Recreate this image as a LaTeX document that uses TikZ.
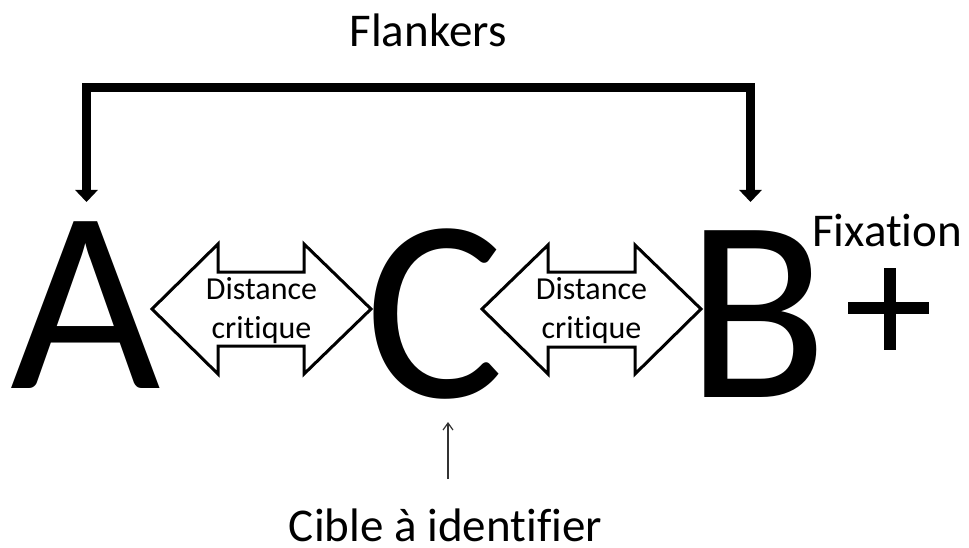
\documentclass[tikz,border=0pt]{standalone}
\usepackage{fontspec}
\setmainfont{Carlito}[Ligatures=NoCommon]
\usetikzlibrary{arrows.meta}
\tikzset{
  bigletter/.style={anchor=base,inner sep=0pt,font=\fontsize{260}{260}\selectfont},
  label/.style={anchor=base,inner sep=0pt,font=\fontsize{47}{52}\selectfont},
  dtext/.style={anchor=base,inner sep=0pt,font=\fontsize{32}{39}\selectfont},
  dblarrow/.style={draw=black,line width=3pt,fill=white,line join=miter},
  bracket/.style={line width=9pt,line join=miter,
    {Triangle[width=22pt,length=12pt]}-{Triangle[width=22pt,length=12pt]}},
  thinarrow/.style={line width=1.2pt,draw=black!80,-{Straight Barb[length=7pt,width=10pt]}},
  plusbar/.style={line width=12pt}
}
\begin{document}
\begin{tikzpicture}[x=1pt,y=-1pt]
\useasboundingbox (0,0) rectangle (969,548);
% big letters
\node[bigletter] (A) at (86,388) {A};
\node[bigletter] (C) at (435,397) {C};
\node[bigletter] (B) at (757,397) {B};
% labels
\node[label] (flankers) at (428,47) {Flankers};
\node[label] (cible) at (445.5,541) {Cible à identifier};
\node[label,anchor=base west] (fix) at (812,247) {Fixation};
% bracket
\coordinate (ta) at (86.5,202);
\coordinate (tb) at (750.5,202);
\draw[bracket] (ta) -- (ta |- 0,88) -- (tb |- 0,88) -- (tb);
% double arrows
\draw[dblarrow] (152,309) -- (218,244) -- (218,272) -- (304,272) -- (304,244) -- (371,309)
  -- (304,374) -- (304,346) -- (218,346) -- (218,374) -- cycle;
\draw[dblarrow] (482,309) -- (548,245) -- (548,272) -- (635,272) -- (635,245) -- (701,309)
  -- (635,374) -- (635,347) -- (548,347) -- (548,374) -- cycle;
\node[dtext] (d1a) at (261.5,299) {Distance};
\node[dtext] (d1b) at (261.5,338) {critique};
\node[dtext] (d2a) at (591.5,299) {Distance};
\node[dtext] (d2b) at (591.5,338) {critique};
% small arrow
\coordinate (s0) at (448,479);
\coordinate (s1) at (448,422);
\draw[thinarrow] (s0) -- (s1);
% plus
\coordinate (p1) at (848,308);
\coordinate (p2) at (929,308);
\coordinate (p3) at (890,268);
\coordinate (p4) at (890,350);
\draw[plusbar] (p1) -- (p2);
\draw[plusbar] (p3) -- (p4);
\end{tikzpicture}
\end{document}
